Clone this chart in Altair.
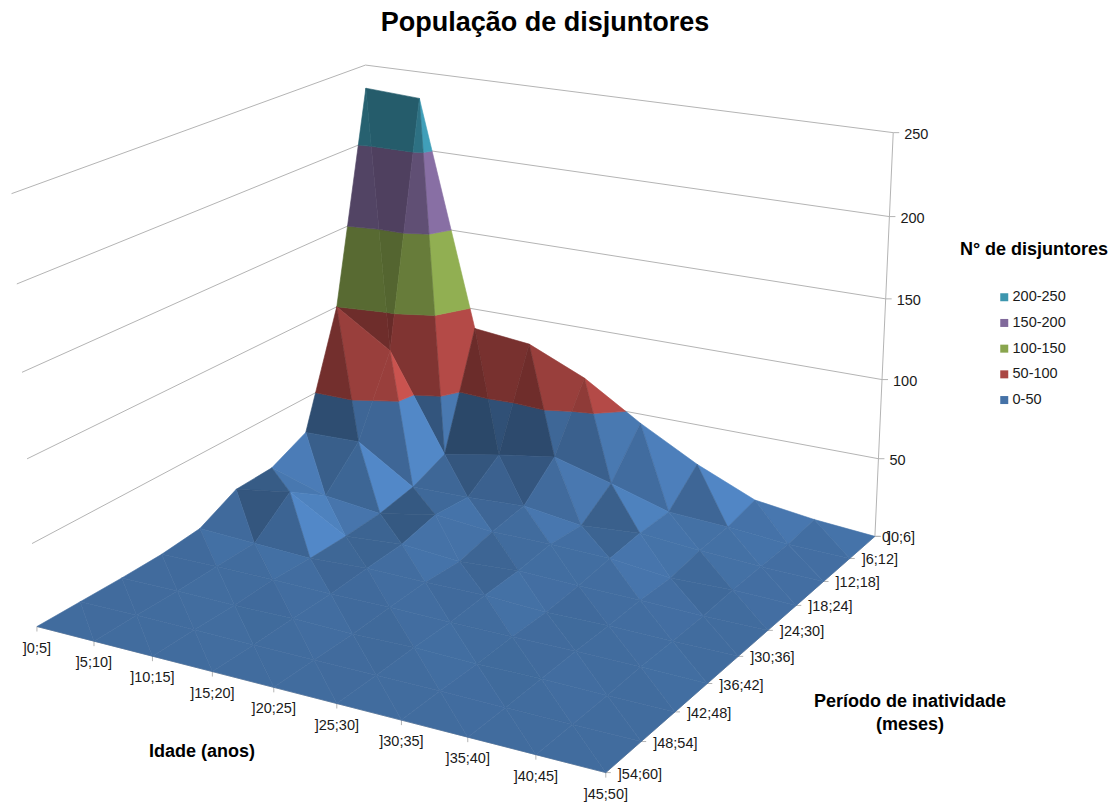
import altair as alt
import numpy as np
import pandas as pd

ages = ["]0;5]", "]5;10]", "]10;15]", "]15;20]", "]20;25]", "]25;30]", "]30;35]", "]35;40]", "]40;45]", "]45;50]"]
periods = ["]0;6]", "]6;12]", "]12;18]", "]18;24]", "]24;30]", "]30;36]", "]36;42]", "]42;48]", "]48;54]", "]54;60]"]
z_ticks = [0, 50, 100, 150, 200, 250]

# Breakers per inactivity period (rows) and age class (columns)
p00 = [235, 233, 87, 83, 67, 44, 24, 8, 3, 0]
p06 = [100, 77, 14, 21, 27, 17, 6, 4, 1, 0]
p12 = [27, 28, 5, 6, 8, 3, 6, 3, 1, 0]
p18 = [16, 5, 1, 8, 5, 5, 4, 0, 1, 0]
p24 = [15, 21, 0, 3, 0, 2.5, 1.5, 1, 0, 0]
p30 = [3, 1.5, 0, 2, 1.5, 2, 0, 0.5, 0, 0]
p36 = [0.5, 1, 1, 0.5, 1, 0.5, 0.5, 0.7, 0.7, 0]
p42 = [0, 0.3, 0, 0.5, 0, 0.7, 0, 0.5, 0, 0]
p48 = [0, 0.3, 0.3, 0, 0, 0.2, 0.2, 0, 0, 0]
p54 = [0, 0, 0, 0, 0, 0, 0, 0, 0, 0]

band_labels = ["200-250", "150-200", "100-150", "50-100", "0-50"]
band_colors = ["#3D96AE", "#80699B", "#89A54E", "#AA4643", "#4572A7"]
band_edges = [(200, 250), (150, 200), (100, 150), (50, 100), (0, 50)]

Z = np.array([p00, p06, p12, p18, p24, p30, p36, p42, p48, p54], dtype=float)
FONT = "Liberation Sans"
INK = "#1a1a1a"

# Perspective camera: (age index, period index, value) -> page pixel
anchors = [
    (0, 0, 250, 365, 65),
    (9, 0, 0, 873, 536), (9, 0, 50, 880, 459), (9, 0, 250, 893, 133),
    (0, 9, 0, 37, 626), (0, 9, 50, 32, 545), (0, 9, 250, 12, 193),
    (9, 9, 0, 604, 773), (5, 9, 0, 337, 703), (9, 4, 0, 770, 630),
]
rows, rhs = [], []
for a, p, z, u, v in anchors:
    rows.append([a, p, z, 1, 0, 0, 0, 0, -u * a, -u * p, -u * z])
    rhs.append(u)
    rows.append([0, 0, 0, 0, a, p, z, 1, -v * a, -v * p, -v * z])
    rhs.append(v)
cam = np.linalg.lstsq(np.array(rows, float), np.array(rhs, float), rcond=None)[0]
cam = np.append(cam, 1.0).reshape(3, 4)


def project(a, p, z):
    h = cam @ np.array([a, p, z, 1.0])
    return float(h[0] / h[2]), float(h[1] / h[2])


def clip_band(tri, lo, hi):
    """Cut a triangle down to the part lying between two value levels."""
    def cut(poly, level, keep_above):
        out = []
        for i, s in enumerate(poly):
            e = poly[(i + 1) % len(poly)]
            s_in = s[2] >= level if keep_above else s[2] <= level
            e_in = e[2] >= level if keep_above else e[2] <= level
            if s_in:
                out.append(s)
            if s_in != e_in:
                t = (level - s[2]) / (e[2] - s[2])
                out.append(tuple(s[k] + t * (e[k] - s[k]) for k in range(3)))
        return out
    poly = cut(list(tri), lo, True)
    return cut(poly, hi, False) if poly else []


def shaded(hex_color, n):
    # Side light from the high-age end; steep facets lose part of it
    side = max(n[0] - 0.16 * (1 - n[2]), min(n[0], 0))
    b = min(max(0.55 + 0.6 * side + 0.40 * n[2], 0.5), 1.2)
    rgb = [int(hex_color[i:i + 2], 16) for i in (1, 3, 5)]
    return "#%02x%02x%02x" % tuple(min(255, int(c * b)) for c in rgb)


def facet_normal(t):
    (a0, p0, z0), (a1, p1, z1), (a2, p2, z2) = t
    u = np.array([a1 - a0, p1 - p0, (z1 - z0) * 1.5 / 40])
    v = np.array([a2 - a0, p2 - p0, (z2 - z0) * 1.5 / 40])
    n = np.cross(u, v)
    if n[2] < 0:
        n = -n
    return n / np.linalg.norm(n)


def corner(i, j):
    return float(i), float(j), float(Z[j, i])


features = []
for p in range(9):
    for a in range(9):
        tris = [
            (corner(a, p), corner(a + 1, p), corner(a + 1, p + 1)),
            (corner(a, p), corner(a, p + 1), corner(a + 1, p + 1)),
        ]
        for t in tris:
            n = facet_normal(t)
            for (lo, hi), col in zip(band_edges[::-1], band_colors[::-1]):
                poly = clip_band(t, lo, hi)
                if len(poly) < 3:
                    continue
                ring = [list(project(*q)) for q in poly]
                ring.append(ring[0])
                features.append({
                    "type": "Feature",
                    "geometry": {"type": "Polygon", "coordinates": [ring]},
                    "properties": {"shade": shaded(col, n)},
                })

surface = alt.Chart(
    alt.Data(values={"type": "FeatureCollection", "features": features},
             format=alt.DataFormat(property="features"))
).mark_geoshape(strokeWidth=0.6).encode(
    fill=alt.Fill("properties.shade:N", scale=None),
    stroke=alt.Stroke("properties.shade:N", scale=None),
).project(type="identity", scale=1, translate=[0, 0])

# Back walls, right value axis and floor edges
segments = []


def seg(p0, p1):
    segments.append({"x": p0[0], "y": p0[1], "x2": p1[0], "y2": p1[1]})


for z in z_ticks[1:]:
    seg(project(0, 9, z), project(0, 0, z))
    seg(project(0, 0, z), project(9, 0, z))
seg(project(9, 0, 0), project(9, 0, 250))
seg(project(0, 9, 0), project(9, 9, 0))
seg(project(9, 9, 0), project(9, 0, 0))
for z in z_ticks:
    x, y = project(9, 0, z)
    seg((x, y), (x + 6, y))
for i in range(10):
    x, y = project(i, 9, 0)
    seg((x, y), (x, y + 5))
    x, y = project(9, i, 0)
    seg((x, y), (x + 5, y))

X = alt.X("x:Q", scale=None, axis=None)
Y = alt.Y("y:Q", scale=None, axis=None)
grid = alt.Chart(pd.DataFrame(segments)).mark_rule(color="#b4b4b4", strokeWidth=1).encode(
    x=X, y=Y, x2="x2:Q", y2="y2:Q"
)

age_df = pd.DataFrame([
    {"label": s, "x": project(i, 9, 0)[0], "y": project(i, 9, 0)[1] + 22}
    for i, s in enumerate(ages)
])
per_df = pd.DataFrame([
    {"label": s, "x": project(9, i, 0)[0] + 12, "y": project(9, i, 0)[1] + 2}
    for i, s in enumerate(periods)
])
val_df = pd.DataFrame([
    {"label": str(z), "x": project(9, 0, z)[0] + (11 if z else 7), "y": project(9, 0, z)[1] + 2}
    for z in z_ticks
])


def labels(df, align):
    return alt.Chart(df).mark_text(
        font=FONT, fontSize=14.5, color=INK, align=align, baseline="middle"
    ).encode(x=X, y=Y, text="label:N")


def caption(text, x, y, size, anchor="center"):
    return alt.Chart(pd.DataFrame({"t": [text]})).mark_text(
        font=FONT, fontSize=size, fontWeight="bold", color="#000000",
        align=anchor, baseline="middle"
    ).encode(x=alt.value(x), y=alt.value(y), text="t:N")


legend_layer = alt.Chart(pd.DataFrame({"band": band_labels})).mark_square(opacity=1).encode(
    x=alt.value(-60), y=alt.value(-60),
    color=alt.Color(
        "band:N",
        scale=alt.Scale(domain=band_labels, range=band_colors),
        legend=alt.Legend(
            title=None, orient="none", legendX=997, legendY=290,
            symbolType="square", symbolSize=64, symbolStrokeWidth=0, symbolOpacity=1,
            labelFont=FONT, labelFontSize=14.5, labelColor=INK,
            labelOffset=1, rowPadding=10.7,
        ),
    ),
)

chart = alt.layer(
    grid,
    surface,
    labels(age_df, "center"),
    labels(per_df, "left"),
    labels(val_df, "left"),
    caption("População de disjuntores", 545, 23, 27),
    caption("Idade (anos)", 202, 752, 18),
    caption("Período de inatividade", 910, 702, 18),
    caption("(meses)", 910, 725, 18),
    caption("N° de disjuntores", 1034, 250, 18),
    legend_layer,
).properties(
    width=1118, height=805, padding=0,
    autosize=alt.AutoSizeParams(type="none"),
).configure_view(stroke=None)

chart.save("out.html", embed_options={"renderer": "svg", "actions": False})
